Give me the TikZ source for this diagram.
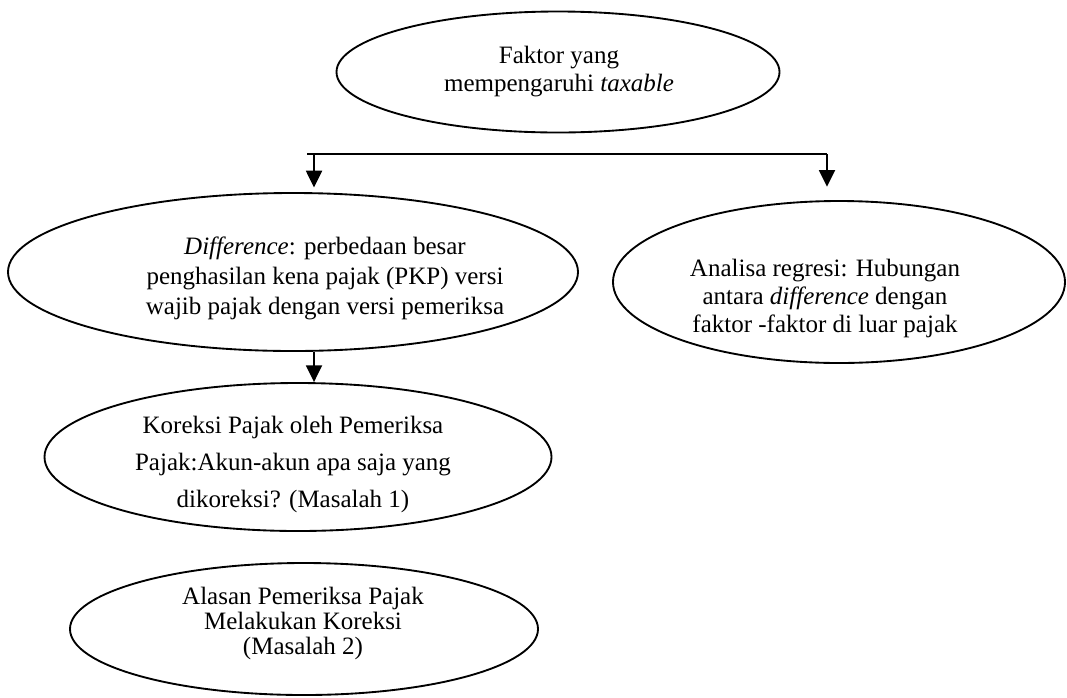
\documentclass[tikz,border=0pt]{standalone}
\usepackage{fontspec}
\setmainfont{Liberation Serif}
\usetikzlibrary{arrows.meta,shapes.geometric}
\begin{document}
\begin{tikzpicture}[x=0.75pt,y=-0.75pt,
  oval/.style={draw, ellipse, line width=1.4pt, inner sep=0pt},
  lbl/.style={align=center, inner sep=0pt},
  arr/.style={line width=1.4pt, -{Triangle[width=12pt,length=12.5pt]}},
  conn/.style={line width=1.4pt}]
\useasboundingbox (0,0) rectangle (1067,697);
% ellipses
\node[oval, minimum width=443*0.75pt, minimum height=121*0.75pt] (e1) at (558,72) {};
\node[oval, minimum width=570*0.75pt, minimum height=158*0.75pt] (e2) at (293,272) {};
\node[oval, minimum width=452*0.75pt, minimum height=162*0.75pt] (e3) at (839,282) {};
\node[oval, minimum width=507*0.75pt, minimum height=148*0.75pt] (e4) at (298,457) {};
\node[oval, minimum width=468*0.75pt, minimum height=132*0.75pt] (e5) at (304,629) {};
% texts
\node[lbl, font=\fontsize{18.75}{21}\selectfont] (t1) at (559,72)
  {Faktor yang\\mempengaruhi \textit{taxable}};
\node[lbl, font=\fontsize{18.75}{22.5}\selectfont] (t2) at (325,278)
  {\textit{Difference}: perbedaan besar\\penghasilan kena pajak (PKP) versi\\wajib pajak dengan versi pemeriksa};
\node[lbl, font=\fontsize{18.75}{21}\selectfont] (t3) at (825,298)
  {Analisa regresi: Hubungan\\antara \textit{difference} dengan\\faktor -faktor di luar pajak};
\node[lbl, font=\fontsize{18.75}{27.75}\selectfont] (t4) at (293,464)
  {Koreksi Pajak oleh Pemeriksa\\Pajak:Akun-akun apa saja yang\\dikoreksi? (Masalah 1)};
\node[lbl, font=\fontsize{18.75}{18.75}\selectfont] (t5) at (303,623)
  {Alasan Pemeriksa Pajak\\Melakukan Koreksi\\(Masalah 2)};
% connectors
\coordinate (hS) at (307,154);
\coordinate (aL) at (314,154);
\coordinate (aR) at (827,154);
\draw[conn] (hS) -- (aR);
\draw[arr, shorten >=3.5pt] (aL) -- (aL |- e2.north);
\draw[arr, shorten >=10pt] (aR) -- (aR |- e3.north);
\draw[arr] (e2.south -| aL) -- (e4.north -| aL);
\end{tikzpicture}
\end{document}
